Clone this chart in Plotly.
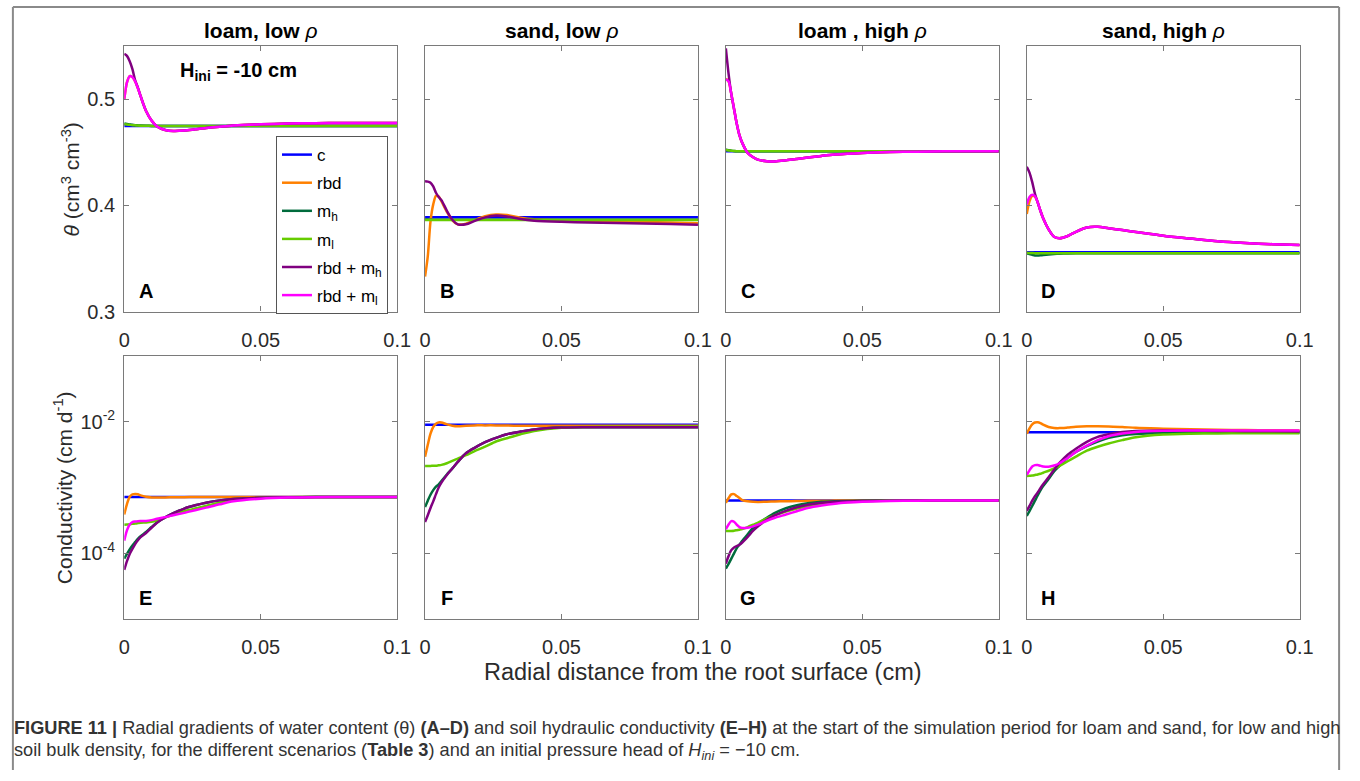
import plotly.graph_objects as go

# ---------------------------------------------------------------------------
# Data: radial distance grid (cm) and scenario curves per panel
# ---------------------------------------------------------------------------
X_GRID = [0.0, 0.001, 0.002, 0.003, 0.004, 0.005, 0.006, 0.008, 0.010, 0.012,
          0.015, 0.018, 0.022, 0.026, 0.030, 0.035, 0.040, 0.050, 0.060, 0.070,
          0.080, 0.090, 0.100]
X_ENDS = [0.0, 0.1]

SCENARIOS = ["c", "rbd", "m<sub>h</sub>", "m<sub>l</sub>",
             "rbd + m<sub>h</sub>", "rbd + m<sub>l</sub>"]
SCENARIO_COLORS = ["#0000FF", "#FF8000", "#006B3C", "#66CC00", "#800080", "#FF00FF"]

PANEL_TITLES = ["<b>loam, low</b> <i>ρ</i>", "<b>sand, low</b> <i>ρ</i>",
                "<b>loam , high</b> <i>ρ</i>", "<b>sand, high</b> <i>ρ</i>"]
PANEL_LETTERS = ["A", "B", "C", "D", "E", "F", "G", "H"]

# --- water content theta (cm3 cm-3) --------------------------------------
A_c = [0.475, 0.475]
A_rbd = [0.5000, 0.5160, 0.5220, 0.5210, 0.5170, 0.5105, 0.5030, 0.4890, 0.4800, 0.4745,
         0.4712, 0.4702, 0.4706, 0.4718, 0.4730, 0.4742, 0.4753, 0.4765, 0.4772, 0.4776,
         0.4778, 0.4778, 0.4778]
A_mh = [0.4772, 0.4768, 0.4764, 0.4760, 0.4757, 0.4755, 0.4753, 0.4751, 0.4750, 0.4750,
        0.4750, 0.4750, 0.4750, 0.4750, 0.4750, 0.4750, 0.4750, 0.4750, 0.4750, 0.4750,
        0.4750, 0.4750, 0.4750]
A_ml = [0.4766, 0.4763, 0.4760, 0.4757, 0.4755, 0.4753, 0.4752, 0.4751, 0.4750, 0.4750,
        0.4750, 0.4750, 0.4750, 0.4750, 0.4750, 0.4750, 0.4750, 0.4750, 0.4750, 0.4750,
        0.4750, 0.4750, 0.4750]
A_rbd_mh = [0.5430, 0.5410, 0.5360, 0.5285, 0.5180, 0.5110, 0.5030, 0.4890, 0.4800, 0.4745,
            0.4712, 0.4702, 0.4706, 0.4718, 0.4730, 0.4742, 0.4753, 0.4765, 0.4772, 0.4776,
            0.4778, 0.4778, 0.4778]
A_rbd_ml = [0.5000, 0.5160, 0.5220, 0.5210, 0.5170, 0.5105, 0.5030, 0.4890, 0.4800, 0.4745,
            0.4712, 0.4702, 0.4706, 0.4718, 0.4730, 0.4742, 0.4753, 0.4765, 0.4772, 0.4776,
            0.4778, 0.4778, 0.4778]

B_c = [0.389, 0.389]
B_rbd = [0.3330, 0.3520, 0.3850, 0.4010, 0.4090, 0.4085, 0.4040, 0.3940, 0.3860, 0.3822,
         0.3828, 0.3860, 0.3898, 0.3915, 0.3910, 0.3885, 0.3870, 0.3860, 0.3855, 0.3850,
         0.3845, 0.3840, 0.3833]
B_mh = [0.3868, 0.3867, 0.3866, 0.3865, 0.3865, 0.3865, 0.3865, 0.3865, 0.3865, 0.3865,
        0.3865, 0.3865, 0.3865, 0.3865, 0.3865, 0.3865, 0.3865, 0.3865, 0.3865, 0.3865,
        0.3865, 0.3865, 0.3865]
B_ml = [0.3862, 0.3862, 0.3862, 0.3862, 0.3862, 0.3862, 0.3862, 0.3862, 0.3862, 0.3862,
        0.3862, 0.3862, 0.3862, 0.3862, 0.3862, 0.3862, 0.3862, 0.3862, 0.3862, 0.3862,
        0.3862, 0.3862, 0.3862]
B_rbd_mh = [0.4228, 0.4225, 0.4215, 0.4180, 0.4120, 0.4080, 0.4050, 0.3950, 0.3865, 0.3822,
            0.3822, 0.3852, 0.3888, 0.3905, 0.3897, 0.3872, 0.3857, 0.3846, 0.3840, 0.3835,
            0.3830, 0.3825, 0.3818]
B_rbd_ml = None

C_c = [0.451, 0.451]
C_rbd = [0.5195, 0.5170, 0.5050, 0.4910, 0.4770, 0.4660, 0.4590, 0.4495, 0.4455, 0.4430,
         0.4417, 0.4415, 0.4425, 0.4438, 0.4452, 0.4467, 0.4480, 0.4495, 0.4503, 0.4507,
         0.4510, 0.4510, 0.4510]
C_mh = [0.4525, 0.4521, 0.4517, 0.4514, 0.4512, 0.4511, 0.4510, 0.4510, 0.4510, 0.4510,
        0.4510, 0.4510, 0.4510, 0.4510, 0.4510, 0.4510, 0.4510, 0.4510, 0.4510, 0.4510,
        0.4510, 0.4510, 0.4510]
C_ml = [0.4522, 0.4519, 0.4516, 0.4513, 0.4511, 0.4510, 0.4510, 0.4510, 0.4510, 0.4510,
        0.4510, 0.4510, 0.4510, 0.4510, 0.4510, 0.4510, 0.4510, 0.4510, 0.4510, 0.4510,
        0.4510, 0.4510, 0.4510]
C_rbd_mh = [0.5480, 0.5240, 0.5050, 0.4910, 0.4770, 0.4660, 0.4590, 0.4495, 0.4455, 0.4430,
            0.4417, 0.4415, 0.4425, 0.4438, 0.4452, 0.4467, 0.4480, 0.4495, 0.4503, 0.4507,
            0.4510, 0.4510, 0.4510]
C_rbd_ml = [0.5190, 0.5170, 0.5050, 0.4910, 0.4770, 0.4660, 0.4590, 0.4495, 0.4455, 0.4430,
            0.4417, 0.4415, 0.4425, 0.4438, 0.4452, 0.4467, 0.4480, 0.4495, 0.4503, 0.4507,
            0.4510, 0.4510, 0.4510]

D_c = [0.356, 0.356]
D_rbd = [0.3920, 0.4040, 0.4090, 0.4085, 0.4030, 0.3950, 0.3880, 0.3775, 0.3705, 0.3690,
         0.3712, 0.3752, 0.3793, 0.3799, 0.3785, 0.3768, 0.3750, 0.3715, 0.3688, 0.3662,
         0.3646, 0.3635, 0.3627]
D_mh = [0.3550, 0.3542, 0.3535, 0.3528, 0.3528, 0.3530, 0.3533, 0.3538, 0.3542, 0.3545,
        0.3548, 0.3550, 0.3550, 0.3550, 0.3550, 0.3550, 0.3550, 0.3550, 0.3550, 0.3550,
        0.3550, 0.3550, 0.3550]
D_ml = [0.3555, 0.3552, 0.3551, 0.3550, 0.3550, 0.3550, 0.3550, 0.3550, 0.3550, 0.3550,
        0.3550, 0.3550, 0.3550, 0.3550, 0.3550, 0.3550, 0.3550, 0.3550, 0.3550, 0.3550,
        0.3550, 0.3550, 0.3550]
D_rbd_mh = [0.4365, 0.4310, 0.4220, 0.4110, 0.4030, 0.3950, 0.3880, 0.3775, 0.3705, 0.3690,
            0.3712, 0.3752, 0.3793, 0.3799, 0.3785, 0.3768, 0.3750, 0.3715, 0.3688, 0.3662,
            0.3646, 0.3635, 0.3627]
D_rbd_ml = [0.4010, 0.4080, 0.4100, 0.4085, 0.4030, 0.3950, 0.3880, 0.3775, 0.3705, 0.3690,
            0.3712, 0.3752, 0.3793, 0.3799, 0.3785, 0.3768, 0.3750, 0.3715, 0.3688, 0.3662,
            0.3646, 0.3635, 0.3627]

# --- hydraulic conductivity K (cm d-1) -----------------------------------
E_c = [7.2e-4, 7.2e-4]
E_rbd = [3.9e-4, 5.6e-4, 7.24e-4, 7.9e-4, 8.0e-4, 7.9e-4, 7.6e-4, 7.24e-4, 7.08e-4, 7.05e-4,
         7.08e-4, 7.1e-4, 7.15e-4, 7.18e-4, 7.2e-4, 7.2e-4, 7.2e-4, 7.2e-4, 7.2e-4, 7.2e-4,
         7.2e-4, 7.2e-4, 7.2e-4]
E_mh = [8.3e-5, 9.8e-5, 1.15e-4, 1.32e-4, 1.48e-4, 1.66e-4, 1.82e-4, 2.11e-4, 2.51e-4, 2.95e-4,
        3.51e-4, 4.07e-4, 4.79e-4, 5.37e-4, 5.89e-4, 6.38e-4, 6.68e-4, 7.0e-4, 7.11e-4, 7.18e-4,
        7.2e-4, 7.2e-4, 7.2e-4]
E_ml = [2.72e-4, 2.74e-4, 2.77e-4, 2.81e-4, 2.84e-4, 2.88e-4, 2.92e-4, 2.95e-4, 3.01e-4, 3.16e-4,
        3.51e-4, 3.89e-4, 4.37e-4, 4.79e-4, 5.25e-4, 5.89e-4, 6.38e-4, 6.92e-4, 7.11e-4, 7.18e-4,
        7.2e-4, 7.2e-4, 7.2e-4]
E_rbd_mh = [5.6e-5, 7.6e-5, 9.8e-5, 1.17e-4, 1.38e-4, 1.58e-4, 1.76e-4, 2.04e-4, 2.45e-4, 2.92e-4,
            3.51e-4, 4.07e-4, 4.79e-4, 5.37e-4, 5.89e-4, 6.38e-4, 6.68e-4, 7.0e-4, 7.11e-4, 7.18e-4,
            7.2e-4, 7.2e-4, 7.2e-4]
E_rbd_ml = [1.56e-4, 2.24e-4, 2.75e-4, 2.99e-4, 3.05e-4, 3.08e-4, 3.09e-4, 3.10e-4, 3.2e-4, 3.35e-4,
            3.55e-4, 3.8e-4, 4.12e-4, 4.52e-4, 4.95e-4, 5.56e-4, 6.17e-4, 6.76e-4, 7.05e-4, 7.15e-4,
            7.18e-4, 7.2e-4, 7.2e-4]

F_c = [9.0e-3, 9.0e-3]
F_rbd = [2.93e-3, 4.47e-3, 6.61e-3, 8.32e-3, 9.33e-3, 9.77e-3, 9.73e-3, 9.12e-3, 8.71e-3, 8.55e-3,
         8.71e-3, 8.8e-3, 8.8e-3, 8.8e-3, 8.75e-3, 8.7e-3, 8.7e-3, 8.7e-3, 8.7e-3, 8.7e-3,
         8.7e-3, 8.7e-3, 8.7e-3]
F_mh = [5.05e-4, 6.31e-4, 7.76e-4, 9.12e-4, 1.035e-3, 1.12e-3, 1.26e-3, 1.58e-3, 1.95e-3, 2.45e-3,
        3.31e-3, 3.98e-3, 4.90e-3, 5.69e-3, 6.46e-3, 7.08e-3, 7.64e-3, 8.17e-3, 8.24e-3, 8.26e-3,
        8.26e-3, 8.26e-3, 8.26e-3]
F_ml = [2.12e-3, 2.12e-3, 2.13e-3, 2.14e-3, 2.15e-3, 2.18e-3, 2.21e-3, 2.34e-3, 2.54e-3, 2.75e-3,
        3.10e-3, 3.55e-3, 4.17e-3, 5.01e-3, 5.62e-3, 6.46e-3, 7.24e-3, 8.13e-3, 8.32e-3, 8.39e-3,
        8.41e-3, 8.43e-3, 8.43e-3]
F_rbd_mh = [3.0e-4, 3.8e-4, 4.9e-4, 6.17e-4, 7.94e-4, 1.0e-3, 1.19e-3, 1.55e-3, 1.95e-3, 2.45e-3,
            3.31e-3, 3.98e-3, 4.90e-3, 5.69e-3, 6.46e-3, 7.08e-3, 7.64e-3, 8.17e-3, 8.24e-3, 8.26e-3,
            8.26e-3, 8.26e-3, 8.26e-3]
F_rbd_ml = None

G_c = [6.35e-4, 6.35e-4]
G_rbd = [5.86e-4, 6.92e-4, 7.85e-4, 7.94e-4, 7.41e-4, 6.92e-4, 6.46e-4, 6.17e-4, 6.07e-4, 6.05e-4,
         6.1e-4, 6.14e-4, 6.19e-4, 6.24e-4, 6.28e-4, 6.31e-4, 6.33e-4, 6.35e-4, 6.35e-4, 6.35e-4,
         6.35e-4, 6.35e-4, 6.35e-4]
G_mh = [5.86e-5, 6.92e-5, 8.32e-5, 1.0e-4, 1.2e-4, 1.36e-4, 1.55e-4, 1.95e-4, 2.45e-4, 2.85e-4,
        3.47e-4, 4.12e-4, 4.84e-4, 5.37e-4, 5.75e-4, 6.07e-4, 6.21e-4, 6.31e-4, 6.35e-4, 6.35e-4,
        6.35e-4, 6.35e-4, 6.35e-4]
G_ml = [2.18e-4, 2.18e-4, 2.19e-4, 2.21e-4, 2.25e-4, 2.29e-4, 2.34e-4, 2.51e-4, 2.72e-4, 2.95e-4,
        3.39e-4, 3.80e-4, 4.32e-4, 4.79e-4, 5.19e-4, 5.53e-4, 5.82e-4, 6.19e-4, 6.29e-4, 6.35e-4,
        6.35e-4, 6.35e-4, 6.35e-4]
G_rbd_mh = [6.97e-5, 9.12e-5, 1.12e-4, 1.23e-4, 1.29e-4, 1.35e-4, 1.46e-4, 1.78e-4, 2.21e-4, 2.63e-4,
            3.24e-4, 3.80e-4, 4.42e-4, 5.01e-4, 5.47e-4, 5.86e-4, 6.10e-4, 6.27e-4, 6.32e-4, 6.35e-4,
            6.35e-4, 6.35e-4, 6.35e-4]
G_rbd_ml = [2.33e-4, 2.75e-4, 3.09e-4, 3.02e-4, 2.72e-4, 2.51e-4, 2.43e-4, 2.45e-4, 2.57e-4, 2.75e-4,
            3.13e-4, 3.47e-4, 3.89e-4, 4.37e-4, 4.90e-4, 5.35e-4, 5.69e-4, 6.07e-4, 6.24e-4, 6.31e-4,
            6.35e-4, 6.35e-4, 6.35e-4]

H_c = [6.93e-3, 6.93e-3]
H_rbd = [6.55e-3, 7.94e-3, 9.12e-3, 9.73e-3, 9.82e-3, 9.55e-3, 9.02e-3, 8.32e-3, 8.04e-3, 8.0e-3,
         8.17e-3, 8.38e-3, 8.53e-3, 8.55e-3, 8.47e-3, 8.32e-3, 8.07e-3, 7.85e-3, 7.67e-3, 7.55e-3,
         7.46e-3, 7.40e-3, 7.35e-3]
H_mh = [3.70e-4, 4.37e-4, 5.25e-4, 6.31e-4, 7.59e-4, 9.02e-4, 1.05e-3, 1.35e-3, 1.76e-3, 2.14e-3,
        2.85e-3, 3.47e-3, 4.27e-3, 5.01e-3, 5.69e-3, 6.24e-3, 6.53e-3, 6.76e-3, 6.82e-3, 6.85e-3,
        6.85e-3, 6.85e-3, 6.85e-3]
H_ml = [1.50e-3, 1.51e-3, 1.52e-3, 1.55e-3, 1.58e-3, 1.62e-3, 1.68e-3, 1.80e-3, 1.95e-3, 2.14e-3,
        2.51e-3, 2.95e-3, 3.63e-3, 4.17e-3, 4.68e-3, 5.25e-3, 5.82e-3, 6.38e-3, 6.58e-3, 6.65e-3,
        6.68e-3, 6.70e-3, 6.71e-3]
H_rbd_mh = [4.40e-4, 5.25e-4, 6.31e-4, 7.41e-4, 8.41e-4, 9.77e-4, 1.12e-3, 1.43e-3, 1.86e-3, 2.37e-3,
            3.16e-3, 3.89e-3, 4.95e-3, 5.89e-3, 6.46e-3, 6.97e-3, 7.21e-3, 7.33e-3, 7.29e-3, 7.24e-3,
            7.19e-3, 7.14e-3, 7.10e-3]
H_rbd_ml = [1.56e-3, 1.82e-3, 2.09e-3, 2.19e-3, 2.20e-3, 2.14e-3, 2.09e-3, 2.07e-3, 2.16e-3, 2.34e-3,
            2.82e-3, 3.47e-3, 4.32e-3, 5.25e-3, 6.03e-3, 6.61e-3, 7.0e-3, 7.29e-3, 7.35e-3, 7.35e-3,
            7.35e-3, 7.35e-3, 7.35e-3]

PANELS = [
    (A_c, A_rbd, A_mh, A_ml, A_rbd_mh, A_rbd_ml),
    (B_c, B_rbd, B_mh, B_ml, B_rbd_mh, B_rbd_ml),
    (C_c, C_rbd, C_mh, C_ml, C_rbd_mh, C_rbd_ml),
    (D_c, D_rbd, D_mh, D_ml, D_rbd_mh, D_rbd_ml),
    (E_c, E_rbd, E_mh, E_ml, E_rbd_mh, E_rbd_ml),
    (F_c, F_rbd, F_mh, F_ml, F_rbd_mh, F_rbd_ml),
    (G_c, G_rbd, G_mh, G_ml, G_rbd_mh, G_rbd_ml),
    (H_c, H_rbd, H_mh, H_ml, H_rbd_mh, H_rbd_ml),
]

# ---------------------------------------------------------------------------
# Layout geometry (pixels)
# ---------------------------------------------------------------------------
FIG_W, FIG_H = 1360, 781
PANEL_LEFT = [120.0, 425.3, 730.6, 1036.0]
PANEL_W = 277.0
ROW_TOP = [47.0, 361.0]
ROW_BOTTOM = [316.0, 628.0]

FONT = "Liberation Sans, Arial, Helvetica, sans-serif"
AXIS_COLOR = "#7a7a7a"
TICK_TEXT = "#2b2b2b"


def fx(p):
    return p / FIG_W


def fy(p):
    return 1.0 - p / FIG_H


fig = go.Figure()

for k, panel in enumerate(PANELS):
    n = k + 1
    xref = "x" if n == 1 else f"x{n}"
    yref = "y" if n == 1 else f"y{n}"
    for s, vals in enumerate(panel):
        if vals is None:
            continue
        xs = X_ENDS if len(vals) == 2 else X_GRID
        fig.add_trace(go.Scatter(
            x=xs, y=vals, mode="lines",
            line=dict(color=SCENARIO_COLORS[s], width=2.5, shape="spline", smoothing=0.8),
            name=SCENARIOS[s], legendgroup=SCENARIOS[s], showlegend=(k == 0),
            xaxis=xref, yaxis=yref, hoverinfo="skip",
        ))

layout_axes = {}
for k in range(8):
    n = k + 1
    row, col = divmod(k, 4)
    xkey = "xaxis" if n == 1 else f"xaxis{n}"
    ykey = "yaxis" if n == 1 else f"yaxis{n}"
    left = PANEL_LEFT[col]
    common = dict(
        ticks="inside", ticklen=5, tickwidth=1, tickcolor=AXIS_COLOR,
        showline=True, linecolor=AXIS_COLOR, linewidth=1.3, mirror="ticks",
        showgrid=False, zeroline=False,
        tickfont=dict(family=FONT, size=20, color=TICK_TEXT),
    )
    layout_axes[xkey] = dict(
        common,
        domain=[fx(left), fx(left + PANEL_W)],
        anchor="y" if n == 1 else f"y{n}",
        range=[0, 0.1], tickvals=[0, 0.05, 0.1], ticktext=["0", "0.05", "0.1"],
        ticklabelstandoff=10,
    )
    if row == 0:
        ycfg = dict(range=[0.3, 0.55], tickvals=[0.3, 0.4, 0.5],
                    ticktext=["0.3", "0.4", "0.5"])
    else:
        ycfg = dict(type="log", range=[-5, -1], tickvals=[1e-4, 1e-2],
                    ticktext=["10<sup>-4</sup>", "10<sup>-2</sup>"])
    layout_axes[ykey] = dict(
        common, **ycfg,
        domain=[fy(ROW_BOTTOM[row]), fy(ROW_TOP[row])],
        anchor="x" if n == 1 else f"x{n}",
        showticklabels=(col == 0), ticklabelstandoff=4,
    )

annotations = []

# Panel titles
for col, title in enumerate(PANEL_TITLES):
    annotations.append(dict(
        x=fx(PANEL_LEFT[col] + PANEL_W / 2), y=fy(31), xref="paper", yref="paper",
        text=title, showarrow=False, xanchor="center", yanchor="middle",
        font=dict(family=FONT, size=21, color="#000000"),
    ))

# Panel letters
for k, letter in enumerate(PANEL_LETTERS):
    row, col = divmod(k, 4)
    annotations.append(dict(
        x=fx(PANEL_LEFT[col] + 22), y=fy(ROW_BOTTOM[row] - 21), xref="paper", yref="paper",
        text=f"<b>{letter}</b>", showarrow=False, xanchor="center", yanchor="middle",
        font=dict(family=FONT, size=20, color="#000000"),
    ))

# Initial pressure head label
annotations.append(dict(
    x=fx(236), y=fy(73), xref="paper", yref="paper",
    text="<b>H<sub>ini</sub> = -10 cm</b>", showarrow=False,
    xanchor="center", yanchor="middle",
    font=dict(family=FONT, size=20, color="#000000"),
))

# Axis titles
annotations.append(dict(
    x=fx(66), y=fy(182), xref="paper", yref="paper", textangle=-90,
    text="<i>θ</i> (cm<sup>3</sup> cm<sup>-3</sup>)", showarrow=False,
    xanchor="center", yanchor="middle",
    font=dict(family=FONT, size=21, color=TICK_TEXT),
))
annotations.append(dict(
    x=fx(58), y=fy(495), xref="paper", yref="paper", textangle=-90,
    text="Conductivity (cm d<sup>-1</sup>)", showarrow=False,
    xanchor="center", yanchor="middle",
    font=dict(family=FONT, size=21, color=TICK_TEXT),
))
annotations.append(dict(
    x=fx(707), y=fy(682), xref="paper", yref="paper",
    text="Radial distance from the root surface (cm)", showarrow=False,
    xanchor="center", yanchor="middle",
    font=dict(family=FONT, size=23.5, color=TICK_TEXT),
))

# Caption
CAPTION_1 = ("<b>FIGURE 11 |</b> Radial gradients of water content (θ) <b>(A–D)</b> and soil "
             "hydraulic conductivity <b>(E–H)</b> at the start of the simulation period for "
             "loam and sand, for low and high")
CAPTION_2 = ("soil bulk density, for the different scenarios (<b>Table 3</b>) and an initial "
             "pressure head of <i>H<sub>ini</sub></i> = −10 cm.")
for text, ypix in ((CAPTION_1, 738), (CAPTION_2, 762)):
    annotations.append(dict(
        x=fx(6), y=fy(ypix), xref="paper", yref="paper", text=text, showarrow=False,
        xanchor="left", yanchor="middle",
        font=dict(family=FONT, size=18.2, color="#333333"),
    ))

# Outer frame around figure and caption
FRAME = "#8a8a8a"
shapes = [
    dict(type="line", xref="paper", yref="paper", x0=fx(7), x1=fx(1353), y0=fy(7), y1=fy(7),
         line=dict(color=FRAME, width=2)),
    dict(type="line", xref="paper", yref="paper", x0=fx(7), x1=fx(7), y0=fy(7), y1=0,
         line=dict(color=FRAME, width=2)),
    dict(type="line", xref="paper", yref="paper", x0=fx(1353), x1=fx(1353), y0=fy(7), y1=0,
         line=dict(color=FRAME, width=2)),
]

fig.update_layout(
    width=FIG_W, height=FIG_H,
    margin=dict(l=0, r=0, t=0, b=0),
    paper_bgcolor="#ffffff", plot_bgcolor="#ffffff",
    font=dict(family=FONT, color="#000000"),
    showlegend=True,
    legend=dict(
        x=fx(274), y=fy(138), xanchor="left", yanchor="top",
        bgcolor="#ffffff", bordercolor="#555555", borderwidth=1,
        font=dict(family=FONT, size=17, color="#000000"),
        traceorder="grouped", tracegroupgap=3, itemwidth=30,
    ),
    annotations=annotations,
    shapes=shapes,
)
fig.update_layout(**layout_axes)

fig.write_html("out.html")
